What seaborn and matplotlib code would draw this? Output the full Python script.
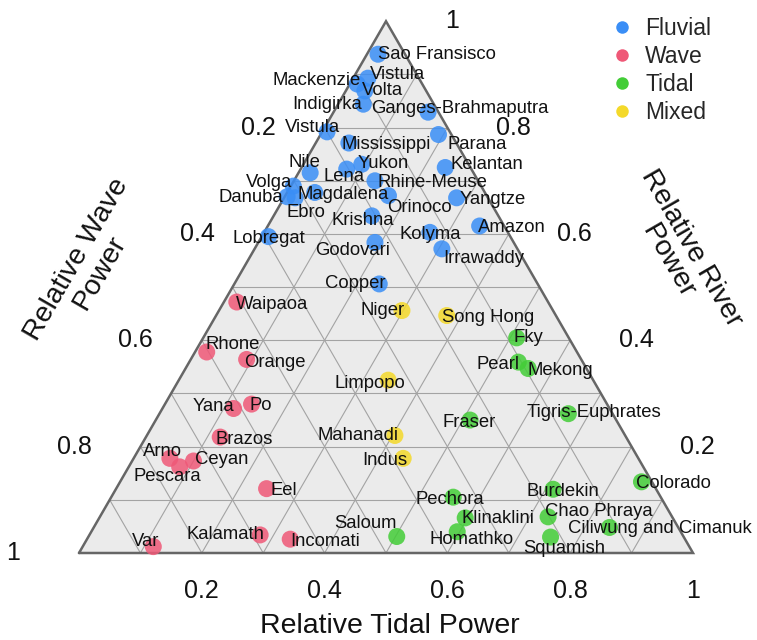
import numpy as np
import pandas as pd
import matplotlib
matplotlib.use("Agg")
import matplotlib.pyplot as plt
import seaborn as sns
from matplotlib.lines import Line2D

# ---------------- data ----------------
names = ["Sao Fransisco", "Vistula", "Mackenzie", "Volta", "Indigirka",
         "Ganges-Brahmaputra", "Vistula", "Mississippi", "Parana", "Nile",
         "Lena", "Yukon", "Kelantan", "Volga", "Danuba", "Ebro", "Magdalena",
         "Rhine-Meuse", "Orinoco", "Yangtze", "Krishna", "Kolyma", "Amazon",
         "Lobregat", "Godovari", "Irrawaddy", "Copper",
         "Waipaoa", "Rhone", "Orange", "Yana", "Po", "Brazos", "Arno",
         "Pescara", "Ceyan", "Eel", "Var", "Kalamath", "Incomati",
         "Niger", "Song Hong", "Limpopo", "Mahanadi", "Indus",
         "Fky", "Pearl", "Mekong", "Tigris-Euphrates", "Fraser", "Colorado",
         "Burdekin", "Pechora", "Chao Phraya", "Klinaklini",
         "Ciliwung and Cimanuk", "Homathko", "Saloum", "Squamish"]

river = [0.938, 0.893, 0.882, 0.869, 0.844, 0.829, 0.792, 0.771, 0.787, 0.715,
         0.722, 0.731, 0.725, 0.690, 0.670, 0.668, 0.678, 0.700, 0.672, 0.668,
         0.634, 0.603, 0.615, 0.595, 0.584, 0.572, 0.506,
         0.472, 0.378, 0.364, 0.272, 0.280, 0.218, 0.178, 0.162, 0.173, 0.121,
         0.012, 0.034, 0.026,
         0.456, 0.447, 0.325, 0.221, 0.178,
         0.405, 0.359, 0.347, 0.262, 0.250, 0.134, 0.120, 0.105, 0.068, 0.066,
         0.048, 0.040, 0.031, 0.030]

wave = [0.044, 0.083, 0.106, 0.100, 0.115, 0.017, 0.200, 0.175, 0.021, 0.266,
        0.203, 0.174, 0.041, 0.306, 0.326, 0.314, 0.277, 0.168, 0.160, 0.051,
        0.206, 0.127, 0.040, 0.394, 0.226, 0.123, 0.258,
        0.507, 0.603, 0.545, 0.613, 0.579, 0.661, 0.763, 0.755, 0.727, 0.634,
        0.873, 0.688, 0.643,
        0.246, 0.178, 0.334, 0.375, 0.383,
        0.085, 0.105, 0.095, 0.072, 0.238, 0.017, 0.168, 0.338, 0.202, 0.338,
        0.112, 0.364, 0.467, 0.217]

tidal = [0.018, 0.024, 0.012, 0.031, 0.041, 0.154, 0.008, 0.054, 0.192, 0.019,
         0.075, 0.095, 0.234, 0.004, 0.004, 0.018, 0.045, 0.132, 0.168, 0.281,
         0.160, 0.270, 0.345, 0.011, 0.190, 0.305, 0.236,
         0.021, 0.019, 0.091, 0.116, 0.141, 0.121, 0.059, 0.083, 0.100, 0.245,
         0.115, 0.278, 0.331,
         0.298, 0.376, 0.341, 0.404, 0.439,
         0.511, 0.536, 0.558, 0.666, 0.512, 0.850, 0.713, 0.557, 0.730, 0.596,
         0.840, 0.596, 0.502, 0.753]

types = ["Fluvial"] * 27 + ["Wave"] * 13 + ["Mixed"] * 5 + ["Tidal"] * 14

categories = ["Fluvial", "Wave", "Tidal", "Mixed"]
tick_values = [0.2, 0.4, 0.6, 0.8, 1.0]
tick_labels = ["0.2", "0.4", "0.6", "0.8", "1"]

# ---------------- style / layout ----------------
palette = {"Fluvial": "#3a8ef6", "Wave": "#ef5877", "Tidal": "#43cd37", "Mixed": "#f4d92a"}

# label offsets in pixels (dx right, dy up) relative to each marker
label_off = [(59, 0), (30, 4), (-41, 4), (18, 0), (-36, 0), (32, 4), (-15, 4), (37, -1),
             (39, -10), (-6, 10), (-3, -7), (22, 1), (42, 3), (-24, 4), (-36, -1), (11, -15),
             (28, -2), (57, -2), (31, -12), (36, -2), (-9, -5), (0, -2), (32, -2), (0, -2),
             (-22, -8), (42, -10), (-24, 0),
             (35, -2), (26, 8), (28, -3), (-20, 2), (9, -1), (24, -2), (-7, 7), (-12, -10),
             (28, 2), (17, -2), (-8, 5), (-35, 0), (35, -2),
             (-19, 0), (41, -2), (-18, -3), (-37, 0), (-18, -2),
             (12, 0), (-20, -2), (32, -2), (26, 1), (-1, -2), (32, -2), (10, -2), (-3, -2),
             (51, 5), (33, -1), (50, -1), (14, -8), (-31, 13), (14, -11)]

sns.set_theme(style="white")
plt.rcParams["font.family"] = ["Liberation Sans", "DejaVu Sans"]

H = np.sqrt(3) / 2
df = pd.DataFrame(dict(name=names, river=river, wave=wave, tidal=tidal, type=types))
tot = df["river"] + df["wave"] + df["tidal"]
df["x"] = (df["tidal"] + 0.5 * df["river"]) / tot
df["y"] = (H * df["river"]) / tot

W, Hpx = 757, 640
PX = 614.0            # pixels per ternary unit
X0, Y0 = 79.0, 553.0  # pixel position of the bottom-left corner


def px2d(px, py):
    return (px - X0) / PX, (Y0 - py) / PX


fig = plt.figure(figsize=(W / 100, Hpx / 100), dpi=100)
ax = fig.add_axes([0, 0, 1, 1])
ax.set_xlim(-X0 / PX, (W - X0) / PX)
ax.set_ylim(-(Hpx - Y0) / PX, Y0 / PX)
ax.axis("off")

# triangle background
ax.fill([0, 1, 0.5], [0, 0, H], color="#ebebeb", zorder=0, lw=0)

# grid
gcol, glw = "#a3a3a3", 0.8
for k in range(1, 10):
    f = k / 10
    ax.plot([f / 2, 1 - f / 2], [f * H, f * H], color=gcol, lw=glw, zorder=1)
    ax.plot([f, f + (1 - f) / 2], [0, (1 - f) * H], color=gcol, lw=glw, zorder=1)
    ax.plot([1 - f, (1 - f) / 2], [0, (1 - f) * H], color=gcol, lw=glw, zorder=1)

# border
ax.plot([0, 1, 0.5, 0], [0, 0, H, 0], color="#666666", lw=1.8, zorder=2,
        solid_joinstyle="miter")

# points
sns.scatterplot(data=df, x="x", y="y", hue="type", hue_order=categories,
                palette=palette, s=150, alpha=0.85, linewidth=0, ax=ax,
                legend=False, zorder=3)
ax.set_xlabel("")
ax.set_ylabel("")

# point labels
for i, row in df.iterrows():
    dx, dy = label_off[i]
    ax.annotate(row["name"], (row["x"], row["y"]), xytext=(dx, dy),
                textcoords="offset pixels", ha="center", va="center",
                fontsize=13.3, color="#111111", zorder=4)

# tick labels
for v, lab in zip(tick_values, tick_labels):
    # tidal (bottom)
    ax.annotate(lab, (v, 0), xytext=(0, -38), textcoords="offset pixels",
                ha="center", va="center", fontsize=18, color="#111111")
    # wave (left)
    ax.annotate(lab, ((1 - v) / 2, (1 - v) * H), xytext=(-66, 0),
                textcoords="offset pixels", ha="center", va="center",
                fontsize=18, color="#111111")
    # river (right)
    ax.annotate(lab, (1 - v / 2, v * H), xytext=(66, 0),
                textcoords="offset pixels", ha="center", va="center",
                fontsize=18, color="#111111")

# axis titles
ax.text(*px2d(390, 626), "Relative Tidal Power", ha="center", va="center",
        fontsize=20.5, color="#111111")
ax.text(*px2d(88, 266), "Relative Wave\nPower", ha="center", va="center",
        rotation=60, multialignment="center", linespacing=1.05,
        fontsize=20.5, color="#111111")
ax.text(*px2d(680, 255), "Relative River\nPower", ha="center", va="center",
        rotation=-60, multialignment="center", linespacing=1.05,
        fontsize=20.5, color="#111111")

# legend
handles = [Line2D([0], [0], marker="o", ls="", color=palette[c],
                  markersize=9, markeredgewidth=0) for c in categories]
leg = ax.legend(handles, categories, loc="upper left",
                bbox_to_anchor=(611 / W, 1 - 17 / Hpx),
                bbox_transform=fig.transFigure, frameon=False,
                fontsize=16.5, handlelength=1.0, handletextpad=0.5,
                labelspacing=0.22, borderpad=0, borderaxespad=0)

fig.savefig("out.png", dpi=100, facecolor="white")
